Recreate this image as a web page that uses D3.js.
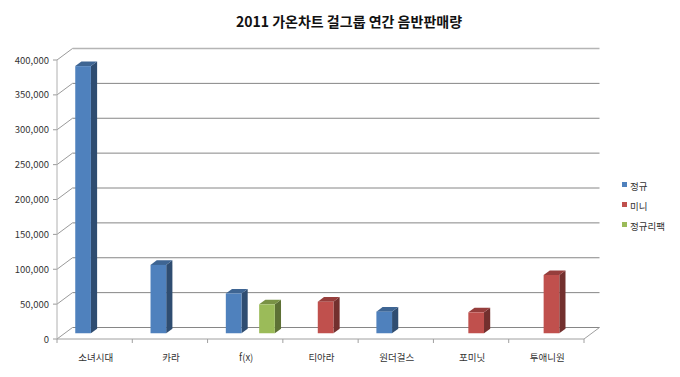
<!DOCTYPE html>
<html>
<head>
<meta charset="utf-8">
<script src="https://cdn.jsdelivr.net/npm/d3@7"></script>
<style>
  body { margin: 0; background: #fff; }
  text { font-family: "Noto Sans CJK KR", "Noto Sans", sans-serif; }
</style>
</head>
<body>
<div id="container"></div>
<script>
let w = 680;
let h = 377;

// DATA
let categories = ["소녀시대", "카라", "f(x)", "티아라", "원더걸스", "포미닛", "투애니원"];
let seriesNames = ["정규", "미니", "정규리팩"];
let jeonggyu = [383000, 98000, 57000, null, 31000, null, null];
let mini = [null, null, null, 45200, null, 30000, 83500];
let repack = [null, null, 41500, null, null, null, null];
let yTicks = [0, 50000, 100000, 150000, 200000, 250000, 300000, 350000, 400000];
let colors = ["#4f81bd", "#c0504d", "#9bbb59"];

let seriesValues = [jeonggyu, mini, repack];

// 3d depth offset (oblique)
let dx = 15.5, dy = -11.5;
let barFront = 0.5;  // depth where bar front face sits
let barDepth = 0.4;

let viz = d3.select("#container").append("svg")
  .attr("width", w)
  .attr("height", h)
  .style("background-color", "white");

// SCALES
let x0 = d3.scaleBand().domain(categories).range([57, 584]);
let x1 = d3.scaleBand().domain(seriesNames).range([10.5, 59.5]).paddingInner(0.06);
let y = d3.scaleLinear().domain([0, 400000]).range([339, 60]);

// title
viz.append("text")
  .attr("x", 349).attr("y", 27)
  .attr("text-anchor", "middle")
  .attr("font-size", 14).attr("font-weight", "bold")
  .attr("fill", "#111")
  .text("2011 가온차트 걸그룹 연간 음반판매량");

let grid = viz.append("g");

// back wall gridlines
grid.selectAll(".grid").data(yTicks).enter()
  .append("line")
  .attr("x1", x0.range()[0] + dx).attr("x2", x0.range()[1] + dx)
  .attr("y1", d => y(d) + dy).attr("y2", d => y(d) + dy)
  .attr("stroke", d => d == 400000 ? "#b5b5b5" : "#868686")
  .attr("stroke-width", d => d == 400000 ? 1.5 : 1);

// side wall diagonals
grid.selectAll(".diag").data(yTicks).enter()
  .append("line")
  .attr("x1", x0.range()[0]).attr("y1", d => y(d))
  .attr("x2", x0.range()[0] + dx).attr("y2", d => y(d) + dy)
  .attr("stroke", "#9a9a9a");

// y tick marks
grid.selectAll(".ytick").data(yTicks).enter()
  .append("line")
  .attr("x1", x0.range()[0] - 4).attr("x2", x0.range()[0])
  .attr("y1", d => y(d)).attr("y2", d => y(d))
  .attr("stroke", "#9a9a9a");

// front axis
grid.append("line")
  .attr("x1", x0.range()[0]).attr("x2", x0.range()[0])
  .attr("y1", y(400000)).attr("y2", y(0))
  .attr("stroke", "#b0b0b0");

// floor
grid.append("line")
  .attr("x1", x0.range()[0]).attr("x2", x0.range()[1])
  .attr("y1", y(0)).attr("y2", y(0))
  .attr("stroke", "#a0a0a0");
grid.append("line")
  .attr("x1", x0.range()[1]).attr("y1", y(0))
  .attr("x2", x0.range()[1] + dx).attr("y2", y(0) + dy)
  .attr("stroke", "#a0a0a0");

// category ticks
let catEdges = categories.map(d => x0(d)).concat([x0.range()[1]]);
grid.selectAll(".xtick").data(catEdges).enter()
  .append("line")
  .attr("x1", d => d).attr("x2", d => d)
  .attr("y1", y(0)).attr("y2", y(0) + 4)
  .attr("stroke", "#a0a0a0");

// y labels
viz.selectAll(".ylab").data(yTicks).enter()
  .append("text")
  .attr("x", 49).attr("y", d => y(d) + 3.5)
  .attr("text-anchor", "end")
  .attr("font-size", 9.5)
  .attr("fill", "#333")
  .text(d => d3.format(",")(d));

// x labels
viz.selectAll(".xlab").data(categories).enter()
  .append("text")
  .attr("x", d => x0(d) + x0.bandwidth() / 2 + 1)
  .attr("y", 361)
  .attr("text-anchor", "middle")
  .attr("font-size", 9.5)
  .attr("fill", "#333")
  .text(d => d);

// BARS
let bars = [];
seriesValues.forEach(function(vals, s) {
  vals.forEach(function(v, i) {
    if (v != null) bars.push({ cat: categories[i], s: s, value: v });
  });
});

function shade(c, k) {
  let col = d3.rgb(c);
  return d3.rgb(col.r * k, col.g * k, col.b * k);
}

let barG = viz.selectAll(".bar").data(bars).enter()
  .append("g").attr("class", "bar");

function geom(d) {
  let bx = x0(d.cat) + x1(seriesNames[d.s]) + barFront * dx;
  let bw = x1.bandwidth();
  let top = y(d.value) + barFront * dy;
  let bot = y(0) + barFront * dy;
  return { bx: bx, bw: bw, top: top, bot: bot, ox: barDepth * dx, oy: barDepth * dy };
}

// side face
barG.append("polygon")
  .attr("points", function(d) {
    let g = geom(d);
    return [[g.bx + g.bw, g.top], [g.bx + g.bw + g.ox, g.top + g.oy],
            [g.bx + g.bw + g.ox, g.bot + g.oy], [g.bx + g.bw, g.bot]].join(" ");
  })
  .attr("fill", d => shade(colors[d.s], 0.6));

// top face
barG.append("polygon")
  .attr("points", function(d) {
    let g = geom(d);
    return [[g.bx, g.top], [g.bx + g.ox, g.top + g.oy],
            [g.bx + g.bw + g.ox, g.top + g.oy], [g.bx + g.bw, g.top]].join(" ");
  })
  .attr("fill", d => shade(colors[d.s], 0.78));

// front face
barG.append("rect")
  .attr("x", d => geom(d).bx)
  .attr("y", d => geom(d).top)
  .attr("width", d => geom(d).bw)
  .attr("height", d => geom(d).bot - geom(d).top)
  .attr("fill", d => colors[d.s]);

// LEGEND
let legend = viz.selectAll(".legend").data(seriesNames).enter()
  .append("g")
  .attr("transform", (d, i) => "translate(622," + (186 + i * 20) + ")");
legend.append("rect")
  .attr("x", 0).attr("y", -4)
  .attr("width", 5).attr("height", 5)
  .attr("fill", (d, i) => colors[i]);
legend.append("text")
  .attr("x", 8).attr("y", 3.5)
  .attr("font-size", 9.5)
  .attr("fill", "#333")
  .text(d => d);
</script>
</body>
</html>
